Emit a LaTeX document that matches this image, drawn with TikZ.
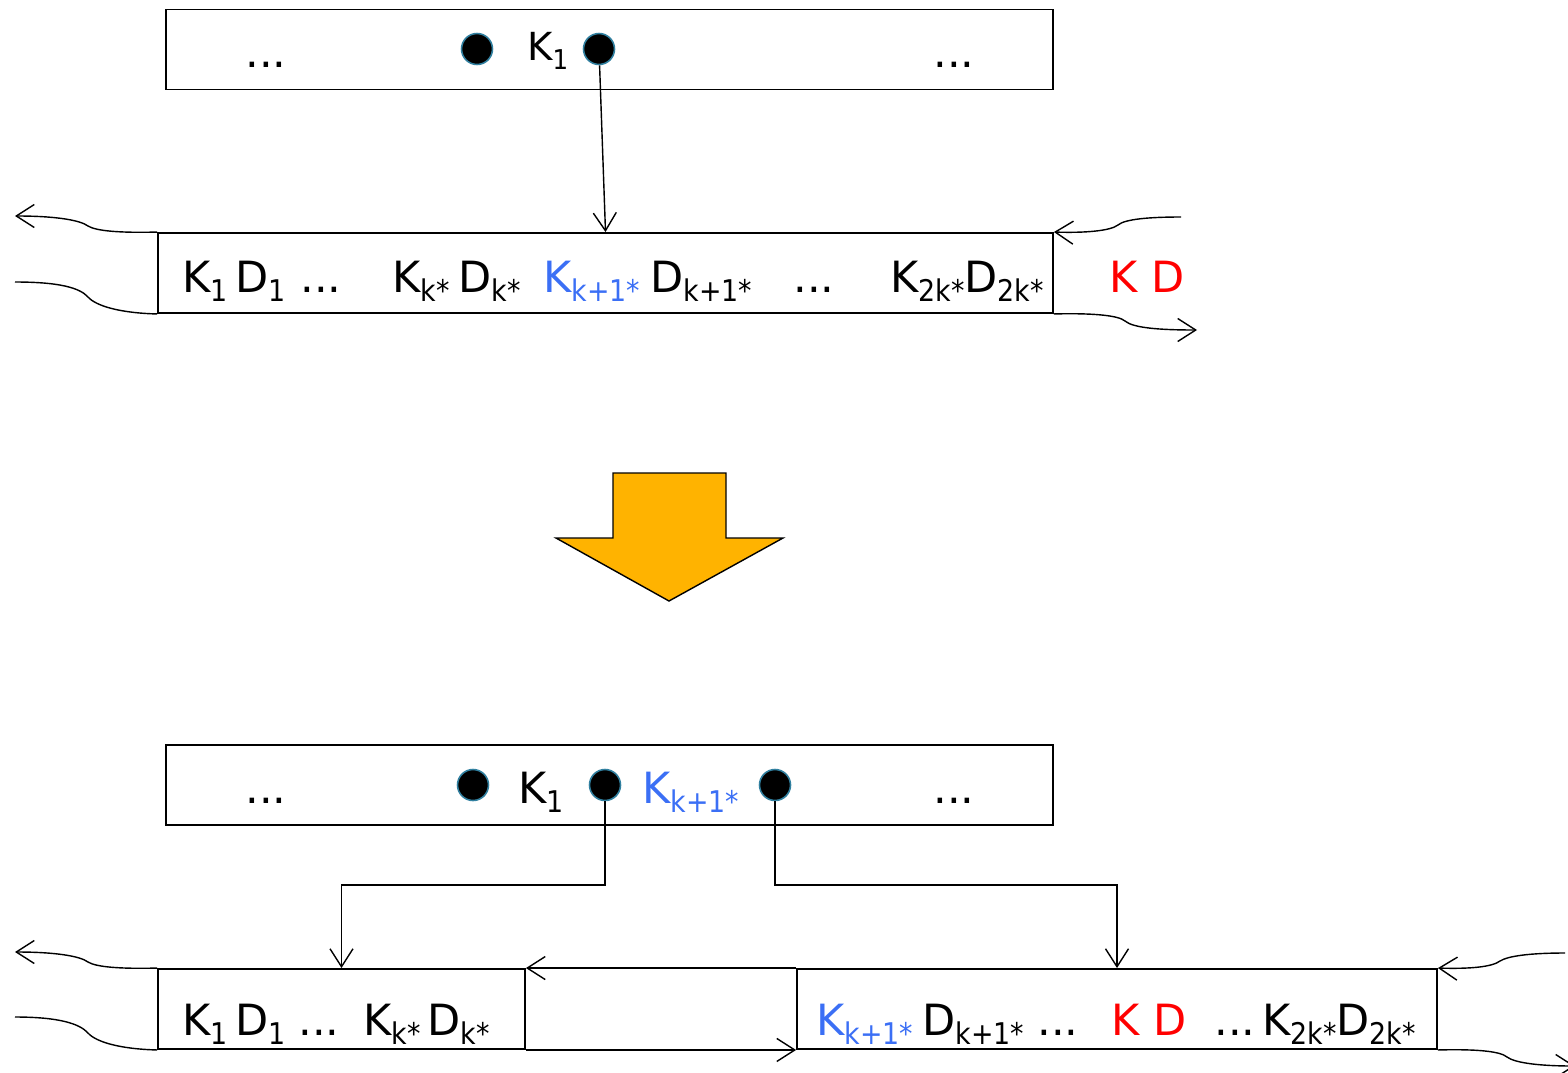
\documentclass[tikz,border=0pt]{standalone}
\usepackage{fontspec}
\setmainfont{DejaVu Sans}
\newfontfamily\subfont{DejaVu Sans Condensed}
\usetikzlibrary{arrows.meta}

\definecolor{keyblue}{RGB}{59,111,245}
\definecolor{splitorange}{RGB}{255,179,0}
\definecolor{dotrim}{RGB}{49,128,160}

% lowered index, e.g. K\idx{k+1*}
\newcommand{\idx}[2][17]{\raisebox{-0.19cm}{\subfont\fontsize{#1}{#1}\selectfont #2}}

\begin{document}
\begin{tikzpicture}[
        x=0.02cm,
        y=-0.02cm,
        page/.style={draw, line width=1.1pt, inner sep=0pt, minimum height=1.6cm},
        ptr/.style={circle, fill=black, draw=dotrim, line width=0.9pt, inner sep=0pt, minimum size=0.62cm},
        lbl/.style={anchor=base west, inner sep=0pt, font=\fontsize{24.5}{30}\selectfont},
        link/.style={line width=0.8pt, -{Straight Barb[length=3.6mm, width=4.6mm]}},
        curl/.style={line width=0.8pt}
    ]
    \useasboundingbox (0,0) rectangle (1568,1072);

    % parent page before the split
    \node[page, minimum width=17.74cm] (upper) at (609.5,49.5) {};
    \node[ptr] (t-p1) at (477,49) {};
    \node[ptr] (t-p2) at (599,49) {};
    \node[lbl] (t-dots1) at (245,67) {...};
    \node[lbl, font=\fontsize{22}{26}\selectfont] (t-k1) at (527,60) {K\idx[15.5]{1}};
    \node[lbl] (t-dots2) at (933,67) {...};

    % full leaf page
    \node[page, minimum width=17.9cm] (mid) at (605.5,273) {};
    \node[lbl] (m-k1) at (182,292) {K\idx{1}};
    \node[lbl] (m-d1) at (235,292) {D\idx{1}};
    \node[lbl] (m-dots1) at (300,292) {...};
    \node[lbl] (m-kk) at (392,292) {K\idx{k*}};
    \node[lbl] (m-dk) at (458,292) {D\idx{k*}};
    \node[lbl, keyblue] (m-kn) at (543,292) {K\idx{k+1*}};
    \node[lbl] (m-dn) at (650,292) {D\idx{k+1*}};
    \node[lbl] (m-dots2) at (793,292) {...};
    \node[lbl] (m-k2k) at (890,292) {K\idx{2k*}D\idx{2k*}};
    \node[lbl, red] (m-new) at (1109,292) {K D};

    \draw[link] (t-p2) -- (mid.north);

    \coordinate (m-lout) at (15,216);
    \coordinate (m-lin) at (15,282);
    \coordinate (m-rin) at (1181,217);
    \coordinate (m-rout) at (1197,330);
    \draw[link] (mid.north west) .. controls (120,233) and (96,231) .. (88,226)
        .. controls (80,220) and (55,216) .. (m-lout);
    \draw[curl] (m-lin) .. controls (60,282) and (80,288) .. (88,297)
        .. controls (96,306) and (120,313) .. (mid.south west);
    \draw[link] (m-rin) .. controls (1150,217) and (1125,219) .. (1118,225)
        .. controls (1110,231) and (1085,233) .. (mid.north east);
    \draw[link] (mid.south east) .. controls (1090,313) and (1118,315) .. (1125,321)
        .. controls (1133,328) and (1160,330) .. (m-rout);

    % split arrow
    \draw[fill=splitorange, line width=0.8pt] (613,473) -- (726,473) -- (726,538) -- (783,538)
        -- (669,601) -- (556,538) -- (613,538) -- cycle;

    % parent page after the split
    \node[page, minimum width=17.74cm] (lower) at (609.5,785) {};
    \node[ptr] (b-p1) at (473,785) {};
    \node[ptr] (b-p2) at (605,785) {};
    \node[ptr] (b-p3) at (775,785) {};
    \node[lbl] (b-dots1) at (245,803) {...};
    \node[lbl] (b-k1) at (518,803) {K\idx{1}};
    \node[lbl, keyblue] (b-kn) at (642,803) {K\idx{k+1*}};
    \node[lbl] (b-dots2) at (933,803) {...};

    % the two half pages
    \node[page, minimum width=7.34cm] (left) at (341.5,1009) {};
    \node[page, minimum width=12.8cm] (right) at (1117,1009) {};
    \node[lbl] (l-k1) at (182,1035) {K\idx{1}};
    \node[lbl] (l-d1) at (235,1035) {D\idx{1}};
    \node[lbl] (l-dots) at (298,1035) {...};
    \node[lbl] (l-kk) at (363,1035) {K\idx{k*}};
    \node[lbl] (l-dk) at (427,1035) {D\idx{k*}};
    \node[lbl, keyblue] (r-kn) at (816,1035) {K\idx{k+1*}};
    \node[lbl] (r-dn) at (922,1035) {D\idx{k+1*}};
    \node[lbl] (r-dots1) at (1037,1035) {...};
    \node[lbl, red] (r-new) at (1111,1035) {K D};
    \node[lbl] (r-dots2) at (1214,1035) {...};
    \node[lbl] (r-k2k) at (1262,1035) {K\idx{2k*}D\idx{2k*}};

    \coordinate (split) at (0,885);
    \draw[link] (b-p2) -- (b-p2 |- split) -| (left.north);
    \draw[link] (b-p3) -- (b-p3 |- split) -| (right.north);
    \draw[link] (right.north west) -- (left.north east);
    \draw[link] (left.south east) -- (right.south west);

    \coordinate (b-lout) at (15,952);
    \coordinate (b-lin) at (15,1017);
    \coordinate (b-rin) at (1565,953);
    \coordinate (b-rout) at (1575,1066);
    \draw[link] (left.north west) .. controls (120,969) and (96,967) .. (88,962)
        .. controls (80,956) and (55,952) .. (b-lout);
    \draw[curl] (b-lin) .. controls (60,1017) and (80,1024) .. (88,1033)
        .. controls (96,1042) and (120,1049) .. (left.south west);
    \draw[link] (b-rin) .. controls (1530,953) and (1508,956) .. (1500,961)
        .. controls (1492,967) and (1470,969) .. (right.north east);
    \draw[link] (right.south east) .. controls (1475,1049) and (1500,1051) .. (1507,1057)
        .. controls (1515,1063) and (1540,1066) .. (b-rout);
\end{tikzpicture}
\end{document}
